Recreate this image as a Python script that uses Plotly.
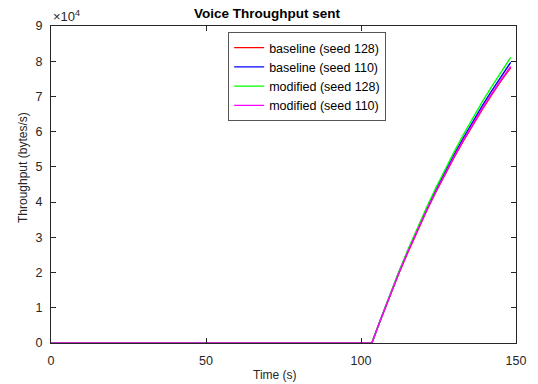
import plotly.graph_objects as go

# Time (s)
time_s = [0, 103.5, 106, 109, 112, 115, 118, 121, 124, 127, 130, 133, 136, 139, 142, 145, 148.3]

# Throughput (bytes/s)
baseline_128 = [0, 0, 5850, 12700, 19300, 25500, 31500, 37200, 42600, 47700, 52600, 57300, 61800, 66100, 70200, 74200, 78200]
baseline_110 = [0, 0, 5950, 12900, 19600, 25900, 32000, 37700, 43200, 48400, 53400, 58200, 62800, 67200, 71400, 75500, 79700]
modified_128 = [0, 0, 6000, 13000, 19800, 26200, 32400, 38200, 43800, 49100, 54200, 59100, 63800, 68300, 72600, 76800, 81100]
modified_110 = [0, 0, 5900, 12800, 19400, 25700, 31700, 37400, 42800, 47900, 52900, 57600, 62100, 66400, 70500, 74500, 78500]

series_names = ["baseline (seed 128)", "baseline (seed 110)", "modified (seed 128)", "modified (seed 110)"]
series_colors = ["#ff0000", "#0000ff", "#00ff00", "#ff00ff"]
series_values = [baseline_128, baseline_110, modified_128, modified_110]

y_tick_vals = [0, 10000, 20000, 30000, 40000, 50000, 60000, 70000, 80000, 90000]
y_tick_text = ["0", "1", "2", "3", "4", "5", "6", "7", "8", "9"]
x_tick_vals = [0, 50, 100, 150]

FONT = "Liberation Sans, Arial, sans-serif"
TXT = "#262626"

fig = go.Figure()
for name, color, vals in zip(series_names, series_colors, series_values):
    fig.add_trace(go.Scatter(x=time_s, y=vals, mode="lines", name=name,
                             line=dict(color=color, width=1.4)))

axis_common = dict(
    showline=True, linecolor=TXT, linewidth=1, mirror="ticks",
    ticks="inside", ticklen=5, tickwidth=1, tickcolor=TXT,
    showgrid=False, zeroline=False,
    tickfont=dict(family=FONT, size=12.5, color=TXT),
)

fig.update_layout(
    width=538, height=384,
    margin=dict(l=51, r=17, t=26, b=41),
    paper_bgcolor="white", plot_bgcolor="white",
    font=dict(family=FONT, color=TXT),
    showlegend=True,
    legend=dict(
        x=0.381, y=0.981, xanchor="left", yanchor="top",
        bgcolor="white", bordercolor="#555555", borderwidth=1,
        font=dict(family=FONT, size=12.5, color="#000000"),
        tracegroupgap=0, itemwidth=30,
        entrywidth=170, entrywidthmode="pixels",
    ),
    xaxis=dict(range=[0, 150], tickvals=x_tick_vals, ticklabelstandoff=6, **axis_common),
    yaxis=dict(range=[0, 90000], tickvals=y_tick_vals, ticktext=y_tick_text,
               ticklabelstandoff=5, **axis_common),
    annotations=[
        dict(text="<b>Voice Throughput sent</b>", xref="paper", yref="paper",
             x=(270 - 51) / 470, y=1.0, yshift=3, xanchor="center", yanchor="bottom",
             showarrow=False, font=dict(family=FONT, size=13.5, color="#000000")),
        dict(text="×10<sup>4</sup>", xref="paper", yref="paper",
             x=0, y=1.0, xanchor="left", yanchor="bottom", showarrow=False,
             font=dict(family=FONT, size=13, color=TXT)),
        dict(text="Time (s)", xref="paper", yref="paper",
             x=(277 - 51) / 470, y=0, yshift=-32, xanchor="center", yanchor="middle",
             showarrow=False, font=dict(family=FONT, size=12, color=TXT)),
        dict(text="Throughput (bytes/s)", xref="paper", yref="paper",
             x=0, xshift=-28, y=(343 - 168) / 317, xanchor="center", yanchor="middle",
             textangle=-90, showarrow=False, font=dict(family=FONT, size=12, color=TXT)),
    ],
)

fig.write_html("out.html")
